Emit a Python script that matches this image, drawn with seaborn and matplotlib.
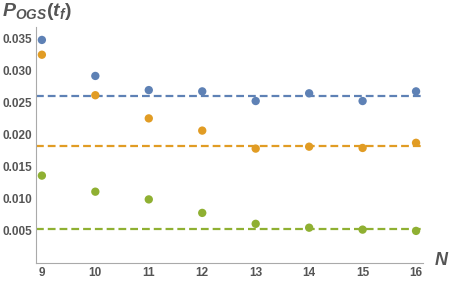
import matplotlib
matplotlib.use("Agg")
import matplotlib.pyplot as plt
import seaborn as sns
import pandas as pd
from matplotlib.ticker import MultipleLocator, AutoMinorLocator

N = [9, 10, 11, 12, 13, 14, 15, 16]
blue = [0.0347, 0.0291, 0.0269, 0.0267, 0.0252, 0.0264, 0.0252, 0.0267]
orange = [0.0324, 0.0261, 0.0225, 0.0206, 0.0178, 0.0181, 0.0179, 0.0187]
green = [0.0136, 0.0111, 0.0099, 0.0078, 0.0061, 0.0055, 0.0052, 0.0050]
limits = [0.0260, 0.0182, 0.0053]
colors = ["#5E81B5", "#E19C24", "#8FB032"]
yticks = [0.005, 0.010, 0.015, 0.020, 0.025, 0.030, 0.035]
ytick_labels = ["0.005", "0.010", "0.015", "0.020", "0.025", "0.030", "0.035"]

sns.set_style("white")
plt.rcParams['font.family'] = ['Liberation Sans', 'DejaVu Sans']
plt.rcParams['mathtext.fontset'] = 'custom'
plt.rcParams['mathtext.rm'] = 'Liberation Sans'
plt.rcParams['mathtext.it'] = 'Liberation Sans:italic'
plt.rcParams['mathtext.bf'] = 'Liberation Sans:bold'
plt.rcParams['mathtext.bfit'] = 'Liberation Sans:italic:bold'

df = pd.DataFrame({
    "N": N * 3,
    "P": blue + orange + green,
    "series": ["a"] * 8 + ["b"] * 8 + ["c"] * 8,
})

fig = plt.figure(figsize=(4.5, 2.85), dpi=100)
ax = fig.add_axes([0.08, 0.077, 0.86, 0.828])

for lim, c in zip(limits, colors):
    ax.axhline(lim, color=c, ls=(0, (3.5, 1.8)), lw=1.6, zorder=1)

sns.scatterplot(data=df, x="N", y="P", hue="series", palette=colors,
                s=36, edgecolor="none", legend=False, ax=ax, zorder=3)

ax.set_xlim(8.89, 16.13)
ax.set_ylim(0.0, 0.0367)
ax.xaxis.set_major_locator(MultipleLocator(1))
ax.xaxis.set_minor_locator(AutoMinorLocator(5))
ax.yaxis.set_minor_locator(MultipleLocator(0.001))
ax.set_yticks(yticks)
ax.set_yticklabels(ytick_labels)

for s in ["top", "right"]:
    ax.spines[s].set_visible(False)
for s in ["left", "bottom"]:
    ax.spines[s].set_color("#AAAAAA")
    ax.spines[s].set_linewidth(0.8)

ax.tick_params(which="major", direction="in", length=4, color="#AAAAAA",
               width=0.8, labelsize=8.5, labelcolor="#555555", pad=3)
ax.tick_params(which="minor", direction="in", length=2, color="#BBBBBB", width=0.6)
for lab in ax.get_xticklabels() + ax.get_yticklabels():
    lab.set_fontweight("bold")

ax.set_xlabel("")
ax.set_ylabel("")
fig.text(0.005, 0.995,
         r"$\mathbfit{P}_{\mathbfit{OGS}}\mathbf{(}\mathbfit{t}_{\mathbfit{f}}\mathbf{)}$",
         ha="left", va="top", fontsize=14, color="#555555")
fig.text(0.965, 0.085, "N", ha="left", va="center", fontsize=13,
         fontweight="bold", fontstyle="italic", color="#555555")

fig.savefig("out.png", dpi=100)
